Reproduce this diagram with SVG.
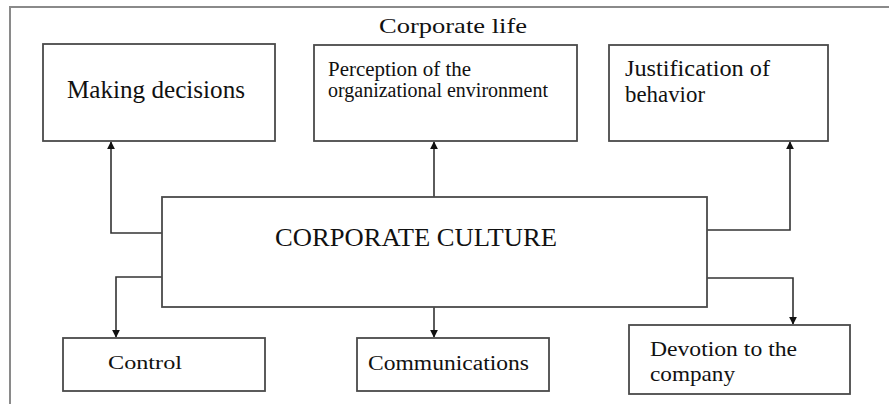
<svg xmlns="http://www.w3.org/2000/svg" width="889" height="404" viewBox="0 0 889 404">
  <style>
    .box { fill: #ffffff; stroke: #4a4a4a; stroke-width: 1.8; }
    .frame { fill: none; stroke: #8a8a8a; stroke-width: 2; }
    .wire { fill: none; stroke: #333333; stroke-width: 1.6; }
  </style>
  <defs>
    <marker id="arrow" viewBox="0 0 10 10" refX="9" refY="5" markerWidth="8" markerHeight="8" markerUnits="userSpaceOnUse" orient="auto">
      <path d="M0,0 L10,5 L0,10 Z" fill="#111111"/>
    </marker>
  </defs>

  <rect width="889" height="404" fill="#ffffff"/>

  <!-- enclosing frame, open to the right and bottom -->
  <g id="frame">
    <path class="frame" d="M10,404 V7 H889"/>
    <text font-family="Liberation Serif, DejaVu Serif, serif" fill="#111" x="379" y="33" font-size="22" textLength="148" lengthAdjust="spacingAndGlyphs">Corporate life</text>
  </g>

  <!-- connectors -->
  <g id="connectors">
    <path class="wire" d="M162,233 H111 V142" marker-end="url(#arrow)"/>
    <path class="wire" d="M434,197 V142" marker-end="url(#arrow)"/>
    <path class="wire" d="M707,230 H790 V142" marker-end="url(#arrow)"/>
    <path class="wire" d="M162,277 H116 V337" marker-end="url(#arrow)"/>
    <path class="wire" d="M434,307 V337" marker-end="url(#arrow)"/>
    <path class="wire" d="M707,278 H793 V324" marker-end="url(#arrow)"/>
  </g>

  <g id="making-decisions" font-family="Liberation Serif, DejaVu Serif, serif" fill="#111">
    <rect class="box" x="43" y="44" width="232" height="97"/>
    <text x="67" y="98" font-size="25" textLength="178" lengthAdjust="spacingAndGlyphs">Making decisions</text>
  </g>

  <g id="perception" font-family="Liberation Serif, DejaVu Serif, serif" fill="#111">
    <rect class="box" x="314" y="45" width="263" height="96"/>
    <text x="328" y="76" font-size="20" textLength="143" lengthAdjust="spacingAndGlyphs">Perception of the</text>
    <text x="328" y="97" font-size="20" textLength="220" lengthAdjust="spacingAndGlyphs">organizational environment</text>
  </g>

  <g id="justification" font-family="Liberation Serif, DejaVu Serif, serif" fill="#111">
    <rect class="box" x="609" y="45" width="219" height="96"/>
    <text x="625" y="76" font-size="23" textLength="145" lengthAdjust="spacingAndGlyphs">Justification of</text>
    <text x="625" y="102" font-size="23" textLength="80" lengthAdjust="spacingAndGlyphs">behavior</text>
  </g>

  <g id="corporate-culture" font-family="Liberation Serif, DejaVu Serif, serif" fill="#111">
    <rect class="box" x="162" y="197" width="545" height="110"/>
    <text x="275" y="246" font-size="24.5" textLength="282" lengthAdjust="spacingAndGlyphs">CORPORATE CULTURE</text>
  </g>

  <g id="control" font-family="Liberation Serif, DejaVu Serif, serif" fill="#111">
    <rect class="box" x="63" y="338" width="202" height="53"/>
    <text x="108" y="369" font-size="19.5" textLength="74" lengthAdjust="spacingAndGlyphs">Control</text>
  </g>

  <g id="communications" font-family="Liberation Serif, DejaVu Serif, serif" fill="#111">
    <rect class="box" x="357" y="338" width="192" height="53"/>
    <text x="368" y="370" font-size="20" textLength="161" lengthAdjust="spacingAndGlyphs">Communications</text>
  </g>

  <g id="devotion" font-family="Liberation Serif, DejaVu Serif, serif" fill="#111">
    <rect class="box" x="629" y="325" width="221" height="69"/>
    <text x="650" y="356" font-size="22" textLength="147" lengthAdjust="spacingAndGlyphs">Devotion to the</text>
    <text x="650" y="381" font-size="22" textLength="85" lengthAdjust="spacingAndGlyphs">company</text>
  </g>
</svg>
